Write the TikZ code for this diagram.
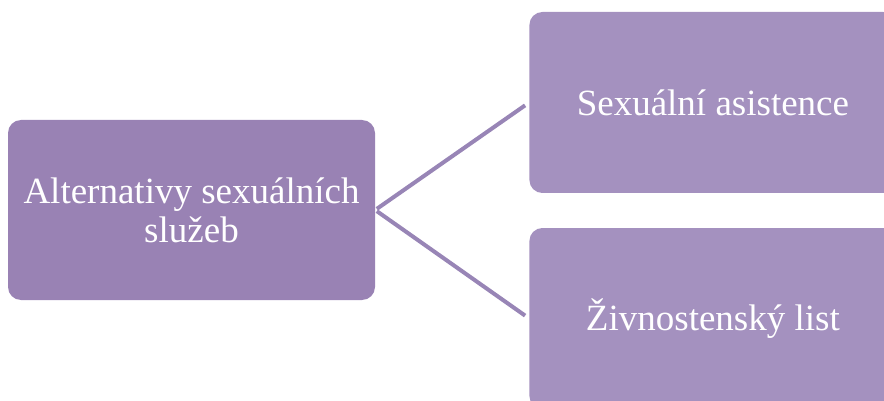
\documentclass[tikz,border=0pt]{standalone}
\usepackage{fontspec}
\setmainfont{Liberation Serif}
\usepackage{tikz}
\usetikzlibrary{positioning}
\definecolor{leftlila}{RGB}{153,130,180}
\definecolor{rightlila}{RGB}{164,145,191}
\definecolor{linelila}{RGB}{152,133,182}
\tikzstyle{mainbox} = [rectangle, rounded corners=13pt, minimum width=367pt, minimum height=180pt, align=center, fill=leftlila, text=white, font=\fontsize{37}{39}\selectfont]
\tikzstyle{subbox} = [rectangle, rounded corners=13pt, minimum width=367pt, minimum height=181pt, align=center, fill=rightlila, text=white, font=\fontsize{37}{39}\selectfont]
\tikzstyle{link} = [draw=linelila, line width=4pt, shorten <=2pt, shorten >=5pt]
\begin{document}
\begin{tikzpicture}[x=1pt, y=-1pt]

\useasboundingbox (0,0) rectangle (884,401);
\clip (0,0) rectangle (884,401);

\node (alt) [mainbox] at (191.5,210) {Alternativy sexuálních\\služeb};
\node (asist) [subbox, right=154pt of alt, yshift=107.5pt] {Sexuální asistence};
\node (zivn) [subbox, right=154pt of alt, yshift=-108.5pt] {Živnostenský list};

\draw[link] (alt.east) -- (asist.west);
\draw[link] (alt.east) -- (zivn.west);

\end{tikzpicture}
\end{document}
